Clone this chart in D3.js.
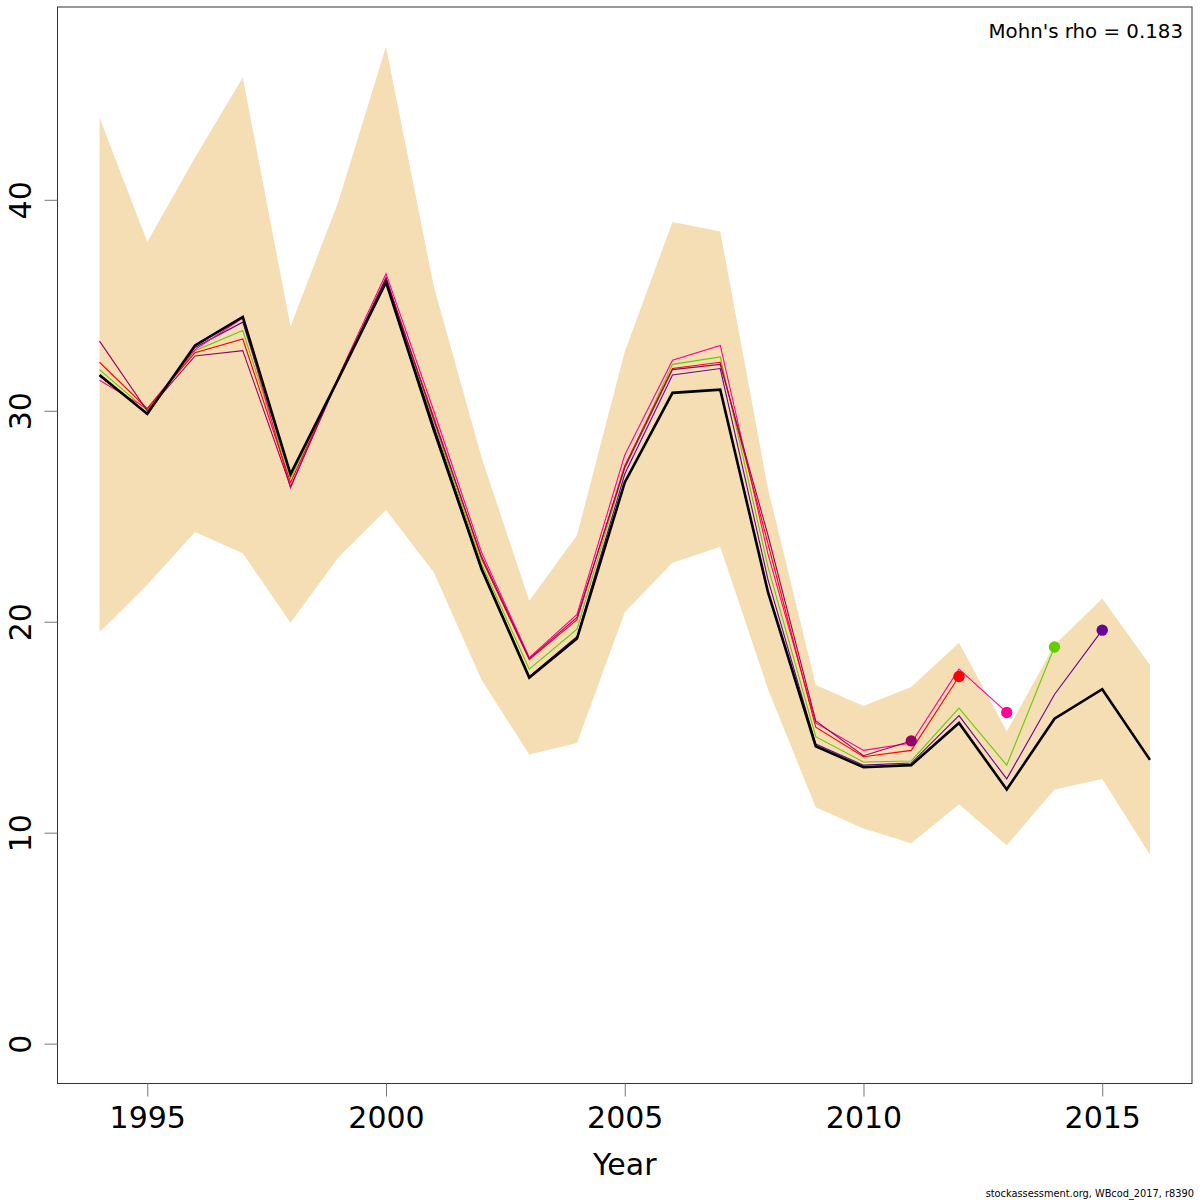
<!DOCTYPE html>
<html>
<head>
<meta charset="utf-8">
<script src="https://cdn.jsdelivr.net/npm/d3@7"></script>
<style>
  html, body { margin: 0; padding: 0; background: #fff; }
  svg { display: block; font-family: "DejaVu Sans", sans-serif; }
</style>
</head>
<body>
<svg id="chart" width="1200" height="1200"></svg>
<script>
// ---------------- data ----------------
const years = [1994,1995,1996,1997,1998,1999,2000,2001,2002,2003,2004,2005,2006,2007,2008,2009,2010,2011,2012,2013,2014,2015,2016];
const finalRun = [31.7,29.85,33.1,34.45,27.0,31.5,36.1,29.1,22.5,17.35,19.2,26.6,30.85,31.0,21.4,14.1,13.1,13.2,15.2,12.05,15.4,16.8,13.45];
const upperCI  = [43.9,38.0,42.0,45.8,34.0,39.9,47.25,35.9,27.8,21.0,24.1,32.8,38.95,38.5,26.3,17.0,16.0,16.9,19.0,14.8,18.9,21.1,17.95];
const lowerCI  = [19.5,21.75,24.25,23.25,19.95,23.05,25.3,22.35,17.25,13.7,14.25,20.45,22.8,23.55,16.8,11.2,10.2,9.5,11.35,9.4,12.05,12.55,8.95];

// retrospective peels (each starts 1994)
const peel2015 = [31.65,29.9,33.0,34.2,26.9,31.5,36.3,29.3,22.6,17.4,19.3,27.0,31.7,32.0,22.0,14.2,13.2,13.3,15.55,12.55,16.55,19.6];
const peel2014 = [31.95,30.0,32.85,33.8,26.8,31.5,36.1,29.5,22.75,17.75,19.65,27.3,32.2,32.55,22.6,14.55,13.35,13.4,15.9,13.2,18.8];
const peel2013 = [31.45,30.1,32.9,34.4,26.35,31.6,36.5,30.0,23.3,18.3,20.35,27.9,32.4,33.1,23.2,15.2,13.9,14.25,17.75,15.7];
const peel2012 = [32.3,30.1,32.75,33.4,26.6,31.5,36.2,29.7,23.0,18.2,20.1,27.4,32.0,32.3,23.7,15.0,13.6,13.9,17.4];
const peel2011 = [33.3,30.0,32.6,32.85,26.4,31.5,36.3,29.6,23.1,18.25,20.2,27.3,31.95,32.2,24.1,15.3,13.65,14.35];

const peels = [peel2015, peel2014, peel2013, peel2012, peel2011];
const peelColors = ["#660099", "#66CC00", "#FF0099", "#FF0000", "#990066"];

const xTicks = [1995, 2000, 2005, 2010, 2015];
const yTicks = [0, 10, 20, 30, 40];
const rhoLabel = "Mohn's rho = 0.183";
const xLabel = "Year";
const footer = "stockassessment.org, WBcod_2017, r8390";

// ---------------- layout ----------------
const svg = d3.select("#chart");
const L = 57.5, R = 1192, T = 7, B = 1083.5;

const xr = d3.extent(years);
const xpad = (xr[1] - xr[0]) * 0.04;
const x = d3.scaleLinear().domain([xr[0] - xpad, xr[1] + xpad]).range([L, R]);

const yr = [0, d3.max(upperCI)];
const ypad = (yr[1] - yr[0]) * 0.04;
const y = d3.scaleLinear().domain([yr[0] - ypad, yr[1] + ypad]).range([B, T]);

// confidence band
const area = d3.area()
  .x((d, i) => x(years[i]))
  .y0((d, i) => y(lowerCI[i]))
  .y1((d, i) => y(upperCI[i]));
svg.append("path").datum(upperCI).attr("d", area).attr("fill", "#F5DEB3");

const line = d3.line().x((d, i) => x(years[i])).y(d => y(d));

// peels
peels.forEach((p, k) => {
  svg.append("path").datum(p).attr("d", line)
    .attr("fill", "none").attr("stroke", peelColors[k]).attr("stroke-width", 1.1);
});

// final run
svg.append("path").datum(finalRun).attr("d", line)
  .attr("fill", "none").attr("stroke", "#000").attr("stroke-width", 2.6)
  .attr("stroke-linejoin", "miter");

// peel end points
peels.forEach((p, k) => {
  const i = p.length - 1;
  svg.append("circle").attr("cx", x(years[i])).attr("cy", y(p[i])).attr("r", 5.7)
    .attr("fill", peelColors[k]);
});

// box
svg.append("rect").attr("x", L).attr("y", T).attr("width", R - L).attr("height", B - T)
  .attr("fill", "none").attr("stroke", "#333").attr("stroke-width", 1);

// x axis
const xAxis = d3.axisBottom(x).tickValues(xTicks).tickSize(13).tickPadding(8).tickFormat(d3.format("d"));
const gx = svg.append("g").attr("transform", `translate(0,${B})`).call(xAxis);
gx.select(".domain").remove();
gx.selectAll(".tick line").attr("stroke", "#777");
gx.selectAll(".tick text").attr("font-size", 30).attr("fill", "#000")
  .attr("font-family", "DejaVu Sans").attr("dy", null).attr("y", 44);

// y axis
const yAxis = d3.axisLeft(y).tickValues(yTicks).tickSize(13).tickFormat(d3.format("d"));
const gy = svg.append("g").attr("transform", `translate(${L},0)`).call(yAxis);
gy.select(".domain").remove();
gy.selectAll(".tick line").attr("stroke", "#777");
gy.selectAll(".tick text").remove();
gy.selectAll(".tick").append("text")
  .attr("transform", `translate(${31 - L},0) rotate(-90)`)
  .attr("text-anchor", "middle").attr("font-size", 30).attr("fill", "#000")
  .attr("font-family", "DejaVu Sans")
  .text(d => d);

// labels
svg.append("text").attr("x", (L + R) / 2).attr("y", 1175).attr("text-anchor", "middle")
  .attr("font-size", 30).text(xLabel);
svg.append("text").attr("x", 1183).attr("y", 38).attr("text-anchor", "end")
  .attr("font-size", 19.8).text(rhoLabel);
svg.append("text").attr("x", 1194).attr("y", 1197).attr("text-anchor", "end")
  .attr("font-size", 9.8).text(footer);
</script>
</body>
</html>
